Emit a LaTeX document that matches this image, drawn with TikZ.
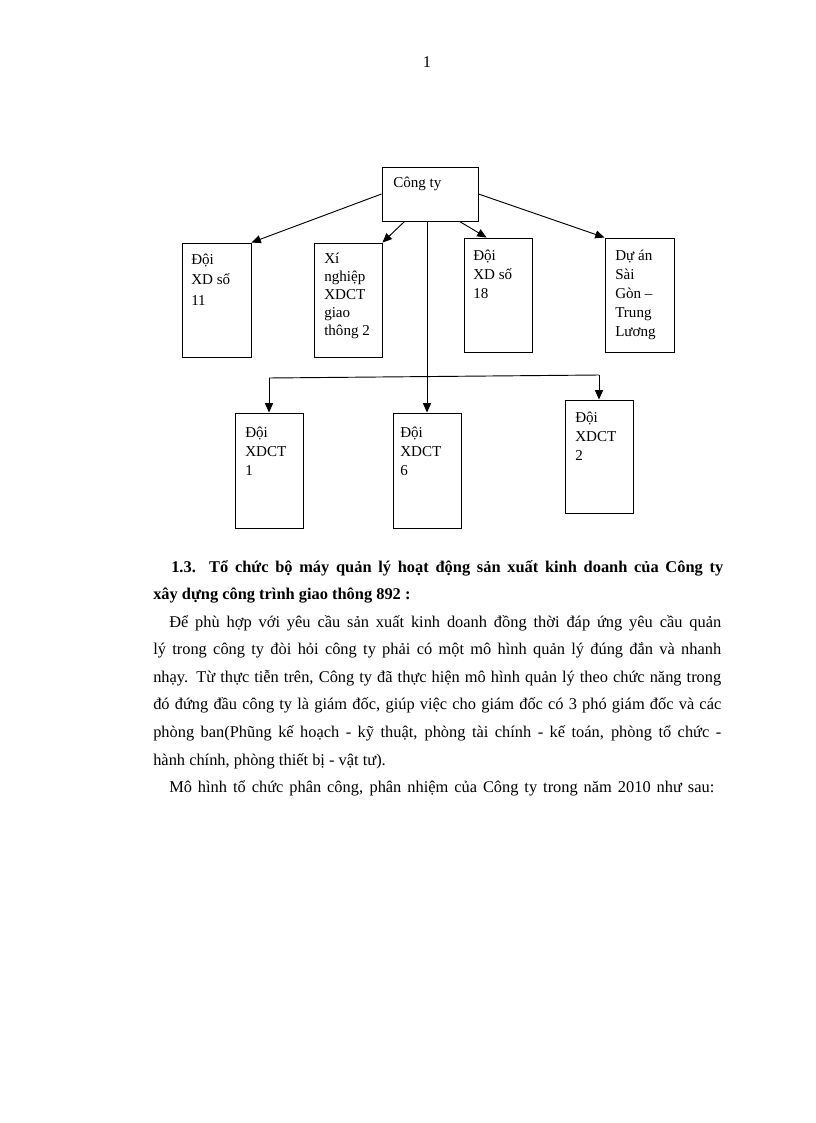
\documentclass[tikz,border=0pt]{standalone}
\usepackage{fontspec}
\setmainfont{Liberation Serif}
\usetikzlibrary{arrows.meta,calc}
\tikzset{
  orgbox/.style={draw=black, line width=0.7pt, inner sep=0pt, minimum width=#1},
  orgbox/.default=51pt,
  boxtxt/.style={anchor=base west, inner sep=0pt, align=left},
  conn/.style={draw=black, line width=0.7pt},
  arr/.style={conn, -{Triangle[length=7pt,width=6pt]}},
  bodyline/.style={anchor=base west, inner sep=0pt, font=\fontsize{12.3}{16}\selectfont},
}
\newcommand{\bx}[2]{\parbox[t]{60pt}{\fontsize{11.3}{#1}\selectfont\raggedright #2}}
\begin{document}
\begin{tikzpicture}[x=0.75pt,y=-0.75pt]
\useasboundingbox (0,0) rectangle (816,1123);
\fill[white] (0,0) rectangle (816,1123);

% page number
\node[bodyline, anchor=base] (pg) at (427,68) {1};

% boxes
\node[orgbox=72pt, minimum height=40.5pt] (cty) at (430,194) {};
\node[orgbox=51.75pt, minimum height=85.5pt] (b1) at (216.5,300) {};
\node[orgbox=51pt, minimum height=85.5pt] (b2) at (348,300) {};
\node[orgbox=51pt, minimum height=85.5pt] (b3) at (498,295) {};
\node[orgbox=51.75pt, minimum height=85.5pt] (b4) at (639.5,295) {};
\node[orgbox=51pt, minimum height=86.25pt] (b5) at (269,470.5) {};
\node[orgbox=51pt, minimum height=86.25pt] (b6) at (427,470.5) {};
\node[orgbox=51pt, minimum height=84.75pt] (b7) at (599,456.5) {};

% box texts
\node[boxtxt] (tcty) at (393,188) {\bx{14pt}{Công ty}};
\node[boxtxt] (tb1) at (191,264) {\bx{15.4pt}{Đội\\XD số\\11}};
\node[boxtxt] (tb2) at (324,263) {\bx{13.6pt}{Xí\\nghiệp\\XDCT\\giao\\thông 2}};
\node[boxtxt] (tb3) at (473,260) {\bx{14.25pt}{Đội\\XD số\\18}};
\node[boxtxt] (tb4) at (615,260) {\bx{14.25pt}{Dự án\\Sài\\Gòn –\\Trung\\Lương}};
\node[boxtxt] (tb5) at (245,437) {\bx{14.25pt}{Đội\\XDCT\\1}};
\node[boxtxt] (tb6) at (400,437) {\bx{14.25pt}{Đội\\XDCT\\6}};
\node[boxtxt] (tb7) at (575,422) {\bx{14.25pt}{Đội\\XDCT\\2}};

% connectors
\draw[arr] (cty.west) -- (b1.north east);
\draw[arr] ($(cty.south west)+(23,0)$) -- (b2.north east);
\draw[arr] ($(cty.south west)+(78,0)$) -- ($(b3.north west)+(23,0)$);
\draw[arr] (cty.east) -- (b4.north west);
\coordinate (barL) at (269,378);
\coordinate (barR) at (599,375);
\draw[arr] (b6.north |- cty.south) -- (b6.north);
\draw[conn] (barL) -- (barR);
\draw[arr] (barL) -- (b5.north);
\draw[arr] (barR) -- (b7.north);

% body text
\node[bodyline] (t1) at (171,572) {\makebox[414pt][s]{\bfseries 1.3. Tổ chức bộ máy quản lý hoạt động sản xuất kinh doanh của Công ty}};
\node[bodyline] (t2) at (153,599) {\bfseries xây dựng công trình giao thông 892 :};
\node[bodyline] (t3) at (169,627) {\makebox[414pt][s]{Để phù hợp với yêu cầu sản xuất kinh doanh đồng thời đáp ứng yêu cầu quản}};
\node[bodyline] (t4) at (153,654) {\makebox[426pt][s]{lý trong công ty đòi hỏi công ty phải có một mô hình quản lý đúng đắn và nhanh}};
\node[bodyline] (t5) at (153,682) {\makebox[426pt][s]{nhạy. Từ thực tiễn trên, Công ty đã thực hiện mô hình quản lý theo chức năng trong}};
\node[bodyline] (t6) at (153,709) {\makebox[426pt][s]{đó đứng đầu công ty là giám đốc, giúp việc cho giám đốc có 3 phó giám đốc và các}};
\node[bodyline] (t7) at (153,737) {\makebox[426pt][s]{phòng ban(Phũng kế hoạch - kỹ thuật, phòng tài chính - kế toán, phòng tổ chức -}};
\node[bodyline] (t8) at (153,765) {hành chính, phòng thiết bị - vật tư).};
\node[bodyline] (t9) at (169,792) {\makebox[408.75pt][s]{Mô hình tổ chức phân công, phân nhiệm của Công ty trong năm 2010 như sau:}};
\end{tikzpicture}
\end{document}
